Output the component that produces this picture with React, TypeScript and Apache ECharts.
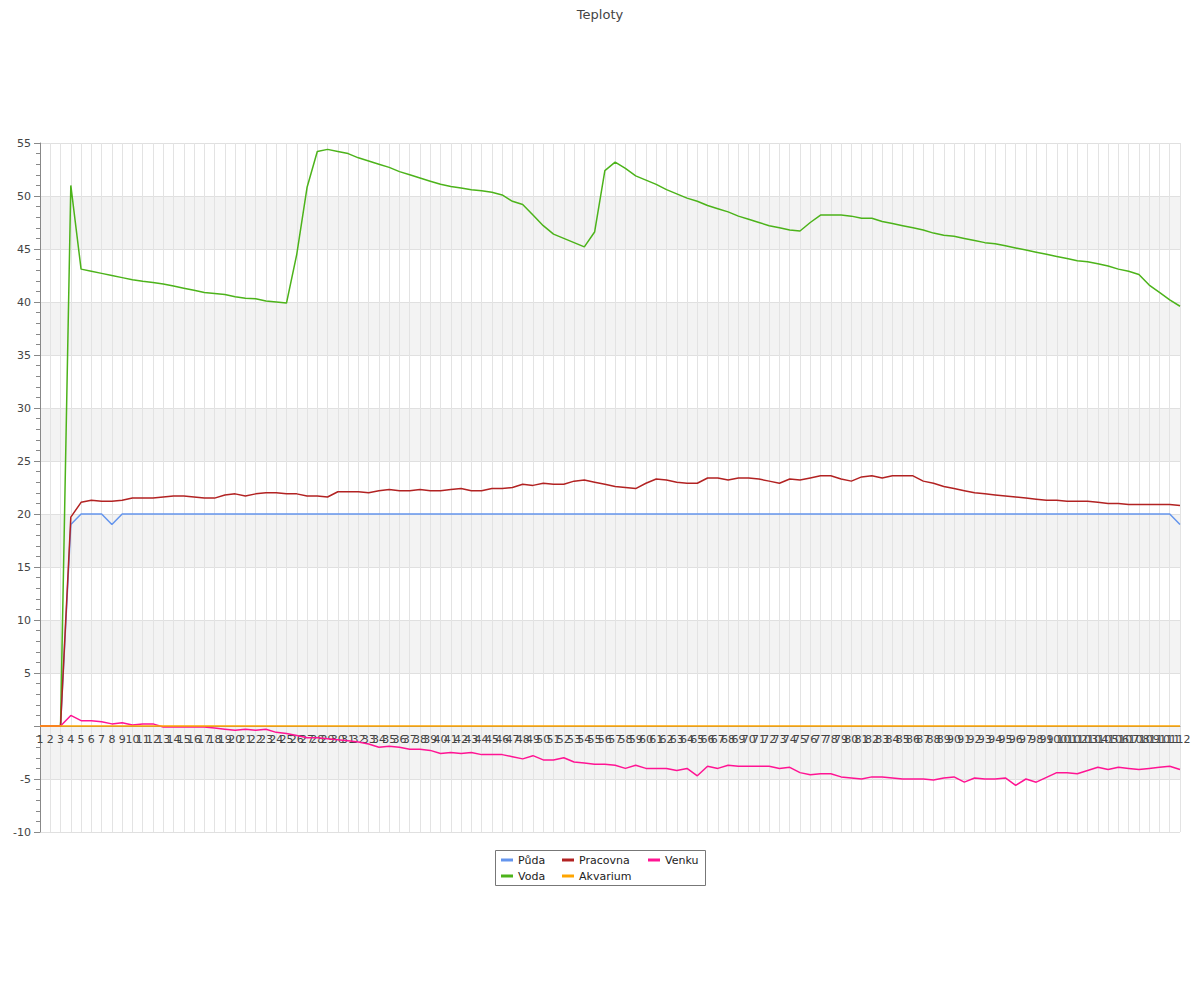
import React, { useEffect, useRef } from "react";
import * as echarts from "echarts";

const categories: string[] = Array.from({ length: 112 }, (_, i) => String(i + 1));

const puda: number[] = [
  0, 0, 0, 19, 20, 20, 20, 19, 20, 20,
  20, 20, 20, 20, 20, 20, 20, 20, 20, 20,
  20, 20, 20, 20, 20, 20, 20, 20, 20, 20,
  20, 20, 20, 20, 20, 20, 20, 20, 20, 20,
  20, 20, 20, 20, 20, 20, 20, 20, 20, 20,
  20, 20, 20, 20, 20, 20, 20, 20, 20, 20,
  20, 20, 20, 20, 20, 20, 20, 20, 20, 20,
  20, 20, 20, 20, 20, 20, 20, 20, 20, 20,
  20, 20, 20, 20, 20, 20, 20, 20, 20, 20,
  20, 20, 20, 20, 20, 20, 20, 20, 20, 20,
  20, 20, 20, 20, 20, 20, 20, 20, 20, 20,
  20, 19,
];

const voda: number[] = [
  0, 0, 0, 51.0, 43.1, 42.9, 42.7, 42.5, 42.3, 42.1,
  41.95, 41.85, 41.7, 41.5, 41.3, 41.1, 40.9, 40.8, 40.7, 40.5,
  40.35, 40.3, 40.1, 40.0, 39.9, 44.5, 50.8, 54.2, 54.4, 54.2,
  54.0, 53.6, 53.3, 53.0, 52.7, 52.3, 52.0, 51.7, 51.4, 51.1,
  50.9, 50.75, 50.6, 50.5, 50.35, 50.1, 49.5, 49.2, 48.2, 47.2,
  46.4, 46.0, 45.6, 45.2, 46.6, 52.4, 53.2, 52.6, 51.9, 51.5,
  51.1, 50.6, 50.2, 49.8, 49.5, 49.1, 48.8, 48.5, 48.1, 47.8,
  47.5, 47.2, 47.0, 46.8, 46.7, 47.5, 48.2, 48.2, 48.2, 48.1,
  47.9, 47.9, 47.6, 47.4, 47.2, 47.0, 46.8, 46.5, 46.3, 46.2,
  46.0, 45.8, 45.6, 45.5, 45.3, 45.1, 44.9, 44.7, 44.5, 44.3,
  44.1, 43.9, 43.8, 43.6, 43.4, 43.1, 42.9, 42.6, 41.6, 40.9,
  40.2, 39.6,
];

const pracovna: number[] = [
  0, 0, 0, 19.7, 21.1, 21.3, 21.2, 21.2, 21.3, 21.5,
  21.5, 21.5, 21.6, 21.7, 21.7, 21.6, 21.5, 21.5, 21.8, 21.9,
  21.7, 21.9, 22.0, 22.0, 21.9, 21.9, 21.7, 21.7, 21.6, 22.1,
  22.1, 22.1, 22.0, 22.2, 22.3, 22.2, 22.2, 22.3, 22.2, 22.2,
  22.3, 22.4, 22.2, 22.2, 22.4, 22.4, 22.5, 22.8, 22.7, 22.9,
  22.8, 22.8, 23.1, 23.2, 23.0, 22.8, 22.6, 22.5, 22.4, 22.9,
  23.3, 23.2, 23.0, 22.9, 22.9, 23.4, 23.4, 23.2, 23.4, 23.4,
  23.3, 23.1, 22.9, 23.3, 23.2, 23.4, 23.6, 23.6, 23.3, 23.1,
  23.5, 23.6, 23.4, 23.6, 23.6, 23.6, 23.1, 22.9, 22.6, 22.4,
  22.2, 22.0, 21.9, 21.8, 21.7, 21.6, 21.5, 21.4, 21.3, 21.3,
  21.2, 21.2, 21.2, 21.1, 21.0, 21.0, 20.9, 20.9, 20.9, 20.9,
  20.9, 20.8,
];

const akvarium: number[] = Array.from({ length: 112 }, () => 0);

const venku: number[] = [
  0, 0, 0, 1.0, 0.5, 0.5, 0.4, 0.2, 0.3, 0.1,
  0.2, 0.2, -0.1, -0.1, -0.1, -0.1, -0.1, -0.2, -0.3, -0.4,
  -0.3, -0.4, -0.3, -0.6, -0.7, -0.9, -1.1, -1.1, -1.2, -1.3,
  -1.4, -1.5, -1.7, -2.0, -1.9, -2.0, -2.2, -2.2, -2.3, -2.6,
  -2.5, -2.6, -2.5, -2.7, -2.7, -2.7, -2.9, -3.1, -2.8, -3.2,
  -3.2, -3.0, -3.4, -3.5, -3.6, -3.6, -3.7, -4.0, -3.7, -4.0,
  -4.0, -4.0, -4.2, -4.0, -4.7, -3.8, -4.0, -3.7, -3.8, -3.8,
  -3.8, -3.8, -4.0, -3.9, -4.4, -4.6, -4.5, -4.5, -4.8, -4.9,
  -5.0, -4.8, -4.8, -4.9, -5.0, -5.0, -5.0, -5.1, -4.9, -4.8,
  -5.3, -4.9, -5.0, -5.0, -4.9, -5.6, -5.0, -5.3, -4.85, -4.4,
  -4.4, -4.5, -4.2, -3.9, -4.1, -3.9, -4.0, -4.1, -4.0, -3.9,
  -3.8, -4.1,
];

const FONT = "DejaVu Sans";

const GRID_TOP = 143;
const GRID_BOTTOM = 168;
const Y_MIN = -10;
const Y_MAX = 55;

export default function App() {
  const ref = useRef<HTMLDivElement>(null);
  useEffect(() => {
    if (!ref.current) return;
    const chart = echarts.init(ref.current, undefined, { renderer: "svg" });
    const plotH = 1000 - GRID_TOP - GRID_BOTTOM;
    const zeroOffset = -((0 - Y_MIN) / (Y_MAX - Y_MIN)) * plotH;
    const line = (name: string, data: number[], color: string, z: number) => ({
      name,
      type: "line",
      data,
      symbol: "none",
      z,
      lineStyle: { color, width: 1.5 },
      itemStyle: { color },
    });
    const legendBase = {
      orient: "vertical",
      top: 854,
      padding: 0,
      itemGap: 4,
      itemWidth: 12,
      itemHeight: 3,
      icon: "rect",
      textStyle: { fontFamily: FONT, fontSize: 11, color: "#222", lineHeight: 12 },
      selectedMode: false,
    };
    chart.setOption({
      animation: false,
      title: {
        text: "Teploty",
        left: "center",
        top: 3,
        textStyle: { fontFamily: FONT, fontSize: 13, fontWeight: "normal", color: "#444" },
      },
      legend: [
        { ...legendBase, left: 501, data: ["Půda", "Voda"] },
        { ...legendBase, left: 562, data: ["Pracovna", "Akvarium"] },
        { ...legendBase, left: 648, data: ["Venku"] },
      ],
      graphic: [
        {
          type: "rect",
          shape: { x: 495.5, y: 850.5, width: 210, height: 35 },
          style: { fill: "none", stroke: "#777", lineWidth: 1 },
        },
      ],
      grid: { left: 40, right: 20, top: GRID_TOP, bottom: GRID_BOTTOM },
      xAxis: {
        type: "category",
        data: categories,
        boundaryGap: false,
        position: "bottom",
        offset: zeroOffset,
        axisLine: { onZero: false, lineStyle: { color: "#888" } },
        axisTick: { show: false },
        axisLabel: {
          interval: 0,
          fontFamily: FONT,
          fontSize: 11,
          color: "#444",
          margin: 8,
          hideOverlap: false,
        },
        splitLine: { show: true, interval: 0, lineStyle: { color: "#e3e3e3", width: 1 } },
      },
      yAxis: {
        type: "value",
        min: Y_MIN,
        max: Y_MAX,
        interval: 5,
        axisLine: { show: true, lineStyle: { color: "#888" } },
        axisTick: { show: true, length: 6, lineStyle: { color: "#888" } },
        minorTick: { show: true, splitNumber: 5, length: 4, lineStyle: { color: "#888" } },
        axisLabel: {
          fontFamily: FONT,
          fontSize: 11,
          color: "#444",
          margin: 9,
          formatter: (v: number) => (v === 0 ? "" : String(v)),
        },
        splitLine: { show: true, lineStyle: { color: "#e0e0e0", width: 1 } },
        splitArea: { show: true, areaStyle: { color: ["rgba(255,255,255,0)", "#f3f3f3"] } },
      },
      series: [
        line("Půda", puda, "#6495ED", 2),
        line("Voda", voda, "#4CB31A", 2),
        line("Pracovna", pracovna, "#B22222", 2),
        line("Venku", venku, "#FF1493", 2),
        line("Akvarium", akvarium, "#FFA500", 3),
      ],
    });
    return () => chart.dispose();
  }, []);
  return <div ref={ref} style={{ width: 1200, height: 1000, position: "absolute", left: 0, top: 0 }} />;
}
